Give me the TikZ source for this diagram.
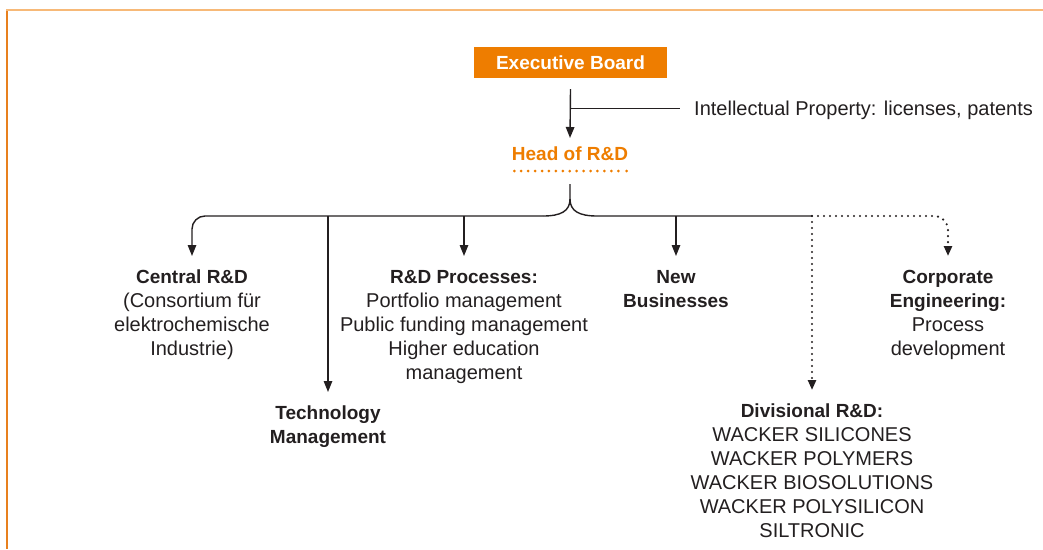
\documentclass[tikz,border=0pt]{standalone}
\usepackage{fontspec}
\setmainfont{Liberation Sans}
\usetikzlibrary{arrows.meta}
\definecolor{wkorange}{RGB}{238,125,0}
\definecolor{frametop}{RGB}{247,185,120}
\definecolor{frameleft}{RGB}{232,128,30}
\definecolor{ink}{RGB}{35,31,32}
\newcommand\wkhead[1]{{\bfseries\fontsize{19}{24}\selectfont #1}}
\begin{document}
\begin{tikzpicture}[x=1pt,y=-1pt,
  line/.style={draw=ink, line width=1.4pt},
  tip/.style={-{Triangle[length=11pt,width=8.5pt]}},
  arr/.style={line, tip},
  dotarr/.style={draw=ink, line width=2.4pt, line cap=round, dash pattern=on 0pt off 6pt,
                 -{Triangle[length=10pt,width=8pt]}},
  lbl/.style={anchor=north, align=center, inner xsep=0pt, inner ysep=14pt,
              font=\fontsize{20}{24}\selectfont, text=ink},
  boardbox/.style={fill=wkorange, minimum width=193pt, minimum height=31pt, inner sep=0pt,
              text=white, font=\bfseries\fontsize{19}{24}\selectfont},
  headtext/.style={anchor=north, inner xsep=0pt, inner ysep=9pt, text=wkorange,
              font=\bfseries\fontsize{19}{24}\selectfont}]
\useasboundingbox (0,0) rectangle (1043,549);
% frame
\draw[frameleft, line width=1.2pt] (7,9) -- (7,549);
\draw[frametop, line width=2pt] (6.4,10) -- (1043,10);

% nodes
\node[boardbox] (exec) at (570.5,62.5) {Executive Board};
\node[headtext] (head) at (570,138) {Head of R\&D};
\node[anchor=base west, inner sep=0pt, font=\fontsize{20}{24}\selectfont, text=ink] (ip) at (694,115)
  {Intellectual Property: licenses, patents};

\node[lbl] (central) at (192,256) {\wkhead{Central R\&D}\\(Consortium für\\elektrochemische\\Industrie)};
\node[lbl] (tech) at (328,392) {\wkhead{Technology}\\\wkhead{Management}};
\node[lbl] (proc) at (464,256) {\wkhead{R\&D Processes:}\\Portfolio management\\Public funding management\\Higher education\\management};
\node[lbl] (newb) at (676,256) {\wkhead{New}\\\wkhead{Businesses}};
\node[lbl] (corp) at (948,256) {\wkhead{Corporate}\\\wkhead{Engineering:}\\Process\\development};
\node[lbl] (div) at (812,390) {\wkhead{Divisional R\&D:}\\WACKER SILICONES\\WACKER POLYMERS\\WACKER BIOSOLUTIONS\\WACKER POLYSILICON\\SILTRONIC};

% dotted underline of Head of R&D
\foreach \i in {0,...,15} \fill[wkorange] (514.3+\i*6.93,171) circle (1.5pt);
\fill[wkorange] (626.7,171) circle (1.5pt);

% executive board -> head
\draw[arr] ([yshift=-11pt]exec.south) -- (head.north);
\coordinate (ipj) at (570,108.5);
\draw[line] (ipj) -- ([xshift=-14pt]ip.west |- ipj);

% brace and bus
\coordinate (hb) at (570,184);
\coordinate (bus) at (570,216);
\coordinate (split) at (812,216);
\draw[line] (hb) -- (570,199) .. controls (570,211) and (561,216) .. (543,216);
\draw[line] (570,199) .. controls (570,211) and (579,216) .. (597,216) -- (split);
\draw[arr, rounded corners=13pt] (543,216) -| (central.north);
\draw[arr] (tech.north |- bus) -- (tech.north);
\draw[arr] (proc.north |- bus) -- (proc.north);
\draw[arr] (newb.north |- bus) -- (newb.north);
\draw[dotarr, rounded corners=14pt] (split) -| (corp.north);
\draw[dotarr] (split) -- (div.north);
\end{tikzpicture}
\end{document}
